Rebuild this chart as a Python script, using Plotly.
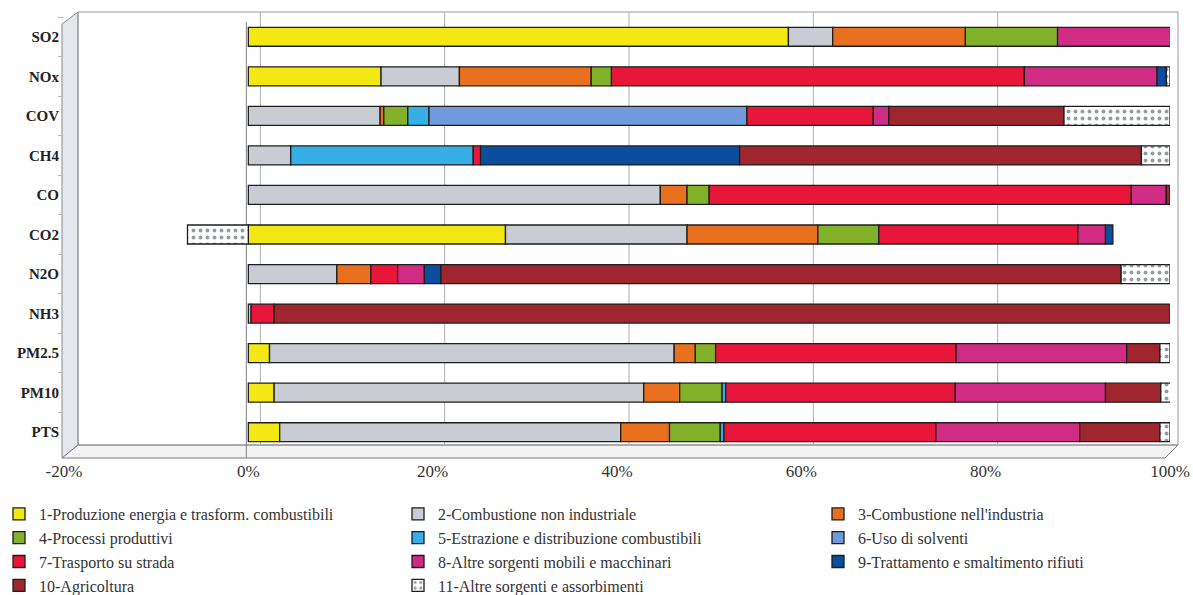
import plotly.graph_objects as go

# Pollutants (top to bottom)
categories = ["SO2", "NOx", "COV", "CH4", "CO", "CO2", "N2O", "NH3", "PM2.5", "PM10", "PTS"]

# Share of emissions (%) by source sector, one list per sector, in category order
s01_energia = [58.6, 14.4, 0, 0, 0, 27.9, 0, 0, 2.3, 2.8, 3.4]
s02_comb_non_ind = [4.8, 8.5, 14.3, 4.6, 44.7, 19.7, 9.6, 0.3, 43.9, 40.1, 37.0]
s03_comb_ind = [14.4, 14.3, 0.4, 0, 2.9, 14.2, 3.7, 0, 2.3, 3.9, 5.3]
s04_processi = [10.0, 2.2, 2.6, 0, 2.4, 6.6, 0, 0, 2.2, 4.6, 5.5]
s05_estrazione = [0, 0, 2.3, 19.8, 0, 0, 0, 0, 0, 0.4, 0.4]
s06_solventi = [0, 0, 34.5, 0, 0, 0, 0, 0, 0, 0, 0]
s07_strada = [0, 44.8, 13.7, 0.8, 45.8, 21.6, 2.9, 2.5, 26.1, 24.9, 23.0]
s08_altre_mobili = [12.3, 14.4, 1.7, 0, 3.8, 3.0, 2.9, 0, 18.5, 16.3, 15.6]
s09_rifiuti = [0, 1.0, 0, 28.1, 0, 0.8, 1.8, 0, 0, 0, 0]
s10_agricoltura = [0, 0, 19.0, 43.6, 0.4, 0, 73.8, 97.2, 3.6, 6.0, 8.7]
s11_altre_sorgenti = [0, 0.4, 11.5, 3.1, 0, -6.6, 5.3, 0, 1.1, 1.1, 1.1]

series_names = [
    "1-Produzione energia e trasform. combustibili",
    "2-Combustione non industriale",
    "3-Combustione nell'industria",
    "4-Processi produttivi",
    "5-Estrazione e distribuzione combustibili",
    "6-Uso di solventi",
    "7-Trasporto su strada",
    "8-Altre sorgenti mobili e macchinari",
    "9-Trattamento e smaltimento rifiuti",
    "10-Agricoltura",
    "11-Altre sorgenti e assorbimenti",
]
series_values = [
    s01_energia, s02_comb_non_ind, s03_comb_ind, s04_processi, s05_estrazione,
    s06_solventi, s07_strada, s08_altre_mobili, s09_rifiuti, s10_agricoltura,
    s11_altre_sorgenti,
]
series_colors = [
    "#F3E714", "#C9CDD3", "#E8701F", "#82B22A", "#36AEE6", "#7199DE",
    "#E8173A", "#D02C84", "#0B4E9E", "#9F262E", "#FFFFFF",
]

x_ticks = [-20, 0, 20, 40, 60, 80, 100]
x_tick_labels = ["-20%", "0%", "20%", "40%", "60%", "80%", "100%"]

SERIF = "Liberation Serif, Times New Roman, serif"

# legend is laid out in three columns: 1,4,7,10 | 2,5,8,11 | 3,6,9
legend_ids = ["legend", "legend2", "legend3"]

fig = go.Figure()
for i, (name, vals, col) in enumerate(zip(series_names, series_values, series_colors)):
    pattern = None
    if name.startswith("11-"):
        pattern = dict(shape=".", fgcolor="#2a3a4a", bgcolor="#FFFFFF", size=7, solidity=0.25)
    fig.add_trace(go.Bar(
        y=categories,
        x=[v if v != 0 else None for v in vals],
        name=name,
        orientation="h",
        legend=legend_ids[i % 3],
        marker=dict(color=col, line=dict(color="#1e1e1e", width=1.3), pattern=pattern),
    ))

# Page geometry (pixels) used for the box decoration
L, R, T, B = 64, 1170, 17, 452
W_PX, H_PX = 1193, 595


def px(xp):
    return (xp - L) / (R - L)


def py(yp):
    return (B - yp) / (B - T)


shapes = []
# left wall
shapes.append(dict(type="path", xref="paper", yref="paper", layer="below",
                   path=f"M {px(62)},{py(24)} L {px(78)},{py(12)} L {px(78)},{py(445)} L {px(62)},{py(458)} Z",
                   fillcolor="#E4E7EC", line=dict(color="#8a8a8a", width=1)))
# floor
shapes.append(dict(type="path", xref="paper", yref="paper", layer="below",
                   path=f"M {px(62)},{py(458)} L {px(1165)},{py(458)} L {px(1178)},{py(445)} L {px(78)},{py(445)} Z",
                   fillcolor="#F3F3F3", line=dict(color="#7a7a7a", width=1)))
# back wall
shapes.append(dict(type="rect", xref="paper", yref="paper", layer="below",
                   x0=px(78), x1=px(1178), y0=py(445), y1=py(12),
                   fillcolor="rgba(0,0,0,0)", line=dict(color="#9a9a9a", width=1)))
# back-wall gridlines, drawn behind the bars with a small depth offset
for v in [0, 20, 40, 60, 80]:
    shapes.append(dict(type="line", xref="x", yref="paper", layer="below",
                       xsizemode="pixel", xanchor=v, x0=12, x1=12,
                       y0=py(445), y1=py(12), line=dict(color="#b0b0b0", width=1)))
# front zero line
shapes.append(dict(type="line", xref="x", yref="paper", layer="below",
                   xsizemode="pixel", xanchor=0, x0=-2, x1=-2,
                   y0=py(458), y1=py(22), line=dict(color="#808080", width=1)))

legend_font = dict(family=SERIF, size=16, color="#333333")
legend_common = dict(orientation="v", yanchor="top", y=py(497), xanchor="left",
                     font=legend_font, itemwidth=30, bgcolor="rgba(0,0,0,0)",
                     traceorder="normal", tracegroupgap=0)

fig.update_layout(
    width=W_PX, height=H_PX,
    margin=dict(l=L, r=W_PX - R, t=T, b=H_PX - B, autoexpand=False),
    paper_bgcolor="white", plot_bgcolor="white",
    barmode="relative", bargap=0.52,
    shapes=shapes,
    xaxis=dict(range=[-20, 100], tickvals=x_ticks, ticktext=x_tick_labels,
               showgrid=False, zeroline=False, showline=False,
               ticks="", ticklabelstandoff=7,
               tickfont=dict(family=SERIF, size=17, color="#333333")),
    yaxis=dict(type="category", categoryorder="array", categoryarray=categories,
               autorange="reversed", showgrid=False, zeroline=False, showline=False,
               ticks="outside", tickson="boundaries", ticklen=5, tickcolor="#b5b5b5",
               ticklabelstandoff=4,
               tickfont=dict(family=SERIF, size=15, color="#222222", weight="bold")),
    legend=dict(x=px(-1), **legend_common),
    legend2=dict(x=px(398), **legend_common),
    legend3=dict(x=px(818), **legend_common),
    showlegend=True,
)

fig.write_html("out.html")
